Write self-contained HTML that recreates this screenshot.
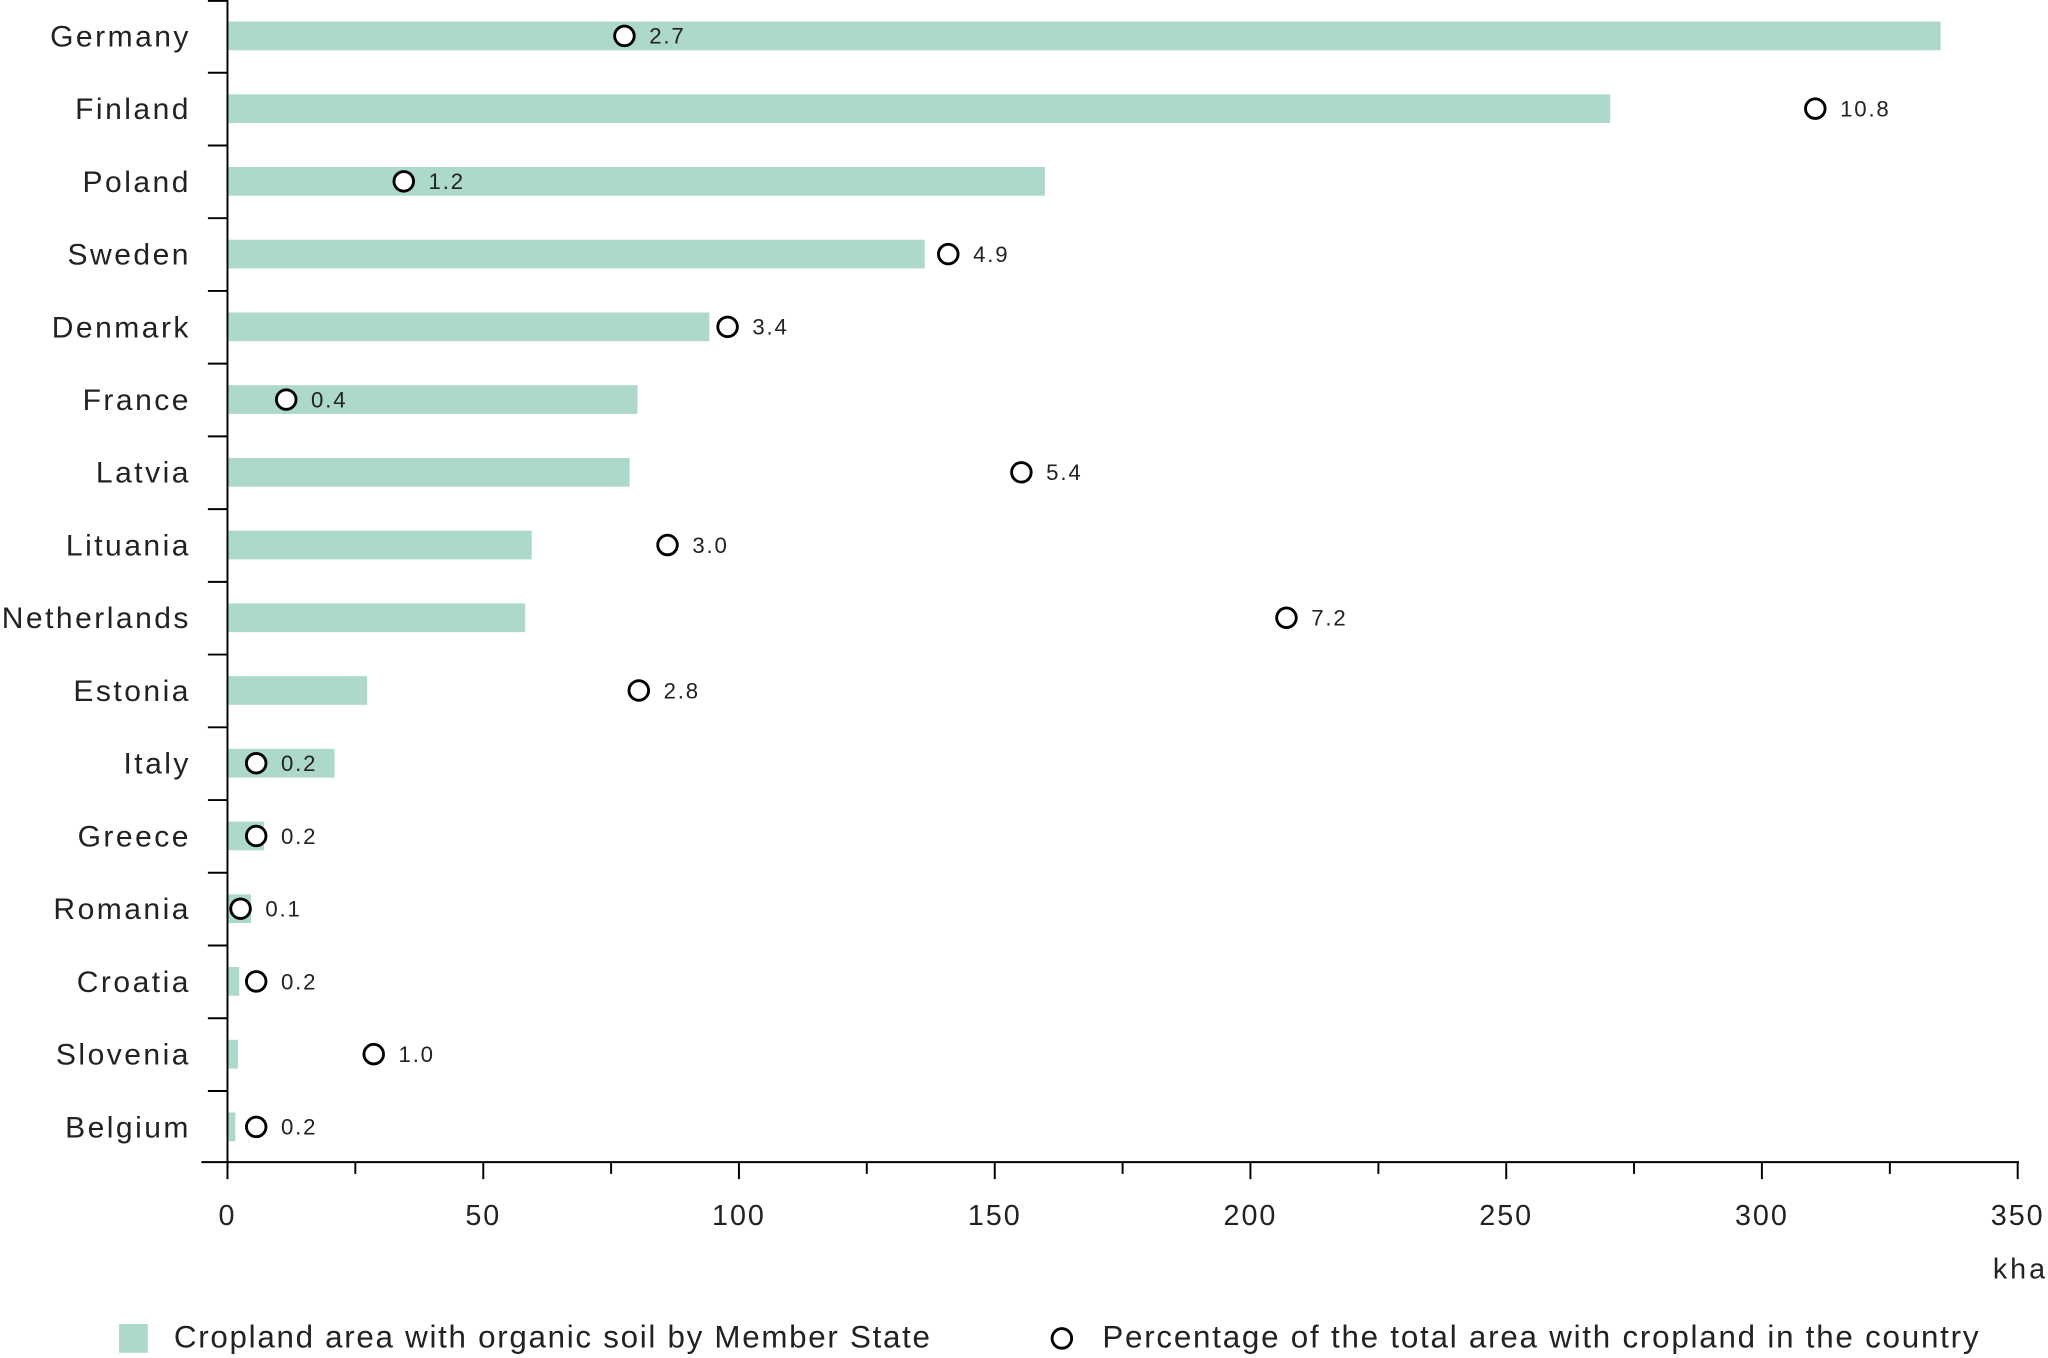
<!DOCTYPE html>
<html><head><meta charset="utf-8"><style>body{margin:0;background:#fff}svg{display:block}</style></head><body>
<svg width="2048" height="1358" viewBox="0 0 1568 1040" xmlns="http://www.w3.org/2000/svg" font-family="'Liberation Sans', sans-serif">
<g fill="#acd9c9">
<rect x="174" y="16.5" width="1312" height="22"/>
<rect x="174" y="72.2" width="1059" height="22"/>
<rect x="174" y="127.9" width="626" height="22"/>
<rect x="174" y="183.6" width="534" height="22"/>
<rect x="174" y="239.3" width="369" height="22"/>
<rect x="174" y="295" width="314" height="22"/>
<rect x="174" y="350.7" width="308" height="22"/>
<rect x="174" y="406.4" width="233" height="22"/>
<rect x="174" y="462.1" width="228" height="22"/>
<rect x="174" y="517.8" width="107" height="22"/>
<rect x="174" y="573.5" width="82" height="22"/>
<rect x="174" y="629.2" width="28" height="22"/>
<rect x="174" y="684.9" width="18" height="22"/>
<rect x="174" y="740.6" width="9" height="22"/>
<rect x="174" y="796.3" width="8" height="22"/>
<rect x="174" y="852" width="6" height="22"/>
</g>
<g font-size="23" fill="#222" text-anchor="end" letter-spacing="1.9">
<text x="146" y="35.5">Germany</text>
<text x="146" y="91.2">Finland</text>
<text x="146" y="146.9">Poland</text>
<text x="146" y="202.6">Sweden</text>
<text x="146" y="258.3">Denmark</text>
<text x="146" y="314">France</text>
<text x="146" y="369.7">Latvia</text>
<text x="146" y="425.4">Lituania</text>
<text x="146" y="481.1">Netherlands</text>
<text x="146" y="536.8">Estonia</text>
<text x="146" y="592.5">Italy</text>
<text x="146" y="648.2">Greece</text>
<text x="146" y="703.9">Romania</text>
<text x="146" y="759.6">Croatia</text>
<text x="146" y="815.3">Slovenia</text>
<text x="146" y="871">Belgium</text>
</g>
<g fill="#fff" stroke="#000" stroke-width="2.2">
<circle cx="478" cy="27.5" r="7.5"/>
<circle cx="1390" cy="83.2" r="7.5"/>
<circle cx="309" cy="138.9" r="7.5"/>
<circle cx="726" cy="194.6" r="7.5"/>
<circle cx="557" cy="250.3" r="7.5"/>
<circle cx="219" cy="306" r="7.5"/>
<circle cx="782" cy="361.7" r="7.5"/>
<circle cx="511" cy="417.4" r="7.5"/>
<circle cx="985" cy="473.1" r="7.5"/>
<circle cx="489" cy="528.8" r="7.5"/>
<circle cx="196" cy="584.5" r="7.5"/>
<circle cx="196" cy="640.2" r="7.5"/>
<circle cx="184" cy="695.9" r="7.5"/>
<circle cx="196" cy="751.6" r="7.5"/>
<circle cx="286" cy="807.3" r="7.5"/>
<circle cx="196" cy="863" r="7.5"/>
</g>
<g font-size="17" fill="#222" letter-spacing="1.4">
<text x="497" y="33.5">2.7</text>
<text x="1409" y="89.2">10.8</text>
<text x="328" y="144.9">1.2</text>
<text x="745" y="200.6">4.9</text>
<text x="576" y="256.3">3.4</text>
<text x="238" y="312">0.4</text>
<text x="801" y="367.7">5.4</text>
<text x="530" y="423.4">3.0</text>
<text x="1004" y="479.1">7.2</text>
<text x="508" y="534.8">2.8</text>
<text x="215" y="590.5">0.2</text>
<text x="215" y="646.2">0.2</text>
<text x="203" y="701.9">0.1</text>
<text x="215" y="757.6">0.2</text>
<text x="305" y="813.3">1.0</text>
<text x="215" y="869">0.2</text>
</g>
<g stroke="#000" stroke-width="1.5">
<line x1="174" x2="174" y1="0" y2="898"/>
<line x1="154" x2="1546" y1="890" y2="890"/>
<line x1="159" x2="174" y1="0.7" y2="0.7"/>
<line x1="159" x2="174" y1="55.7" y2="55.7"/>
<line x1="159" x2="174" y1="111.4" y2="111.4"/>
<line x1="159" x2="174" y1="167.1" y2="167.1"/>
<line x1="159" x2="174" y1="222.8" y2="222.8"/>
<line x1="159" x2="174" y1="278.5" y2="278.5"/>
<line x1="159" x2="174" y1="334.2" y2="334.2"/>
<line x1="159" x2="174" y1="389.9" y2="389.9"/>
<line x1="159" x2="174" y1="445.6" y2="445.6"/>
<line x1="159" x2="174" y1="501.3" y2="501.3"/>
<line x1="159" x2="174" y1="557" y2="557"/>
<line x1="159" x2="174" y1="612.7" y2="612.7"/>
<line x1="159" x2="174" y1="668.4" y2="668.4"/>
<line x1="159" x2="174" y1="724.1" y2="724.1"/>
<line x1="159" x2="174" y1="779.8" y2="779.8"/>
<line x1="159" x2="174" y1="835.5" y2="835.5"/>
<line x1="174" x2="174" y1="890" y2="903"/>
<line x1="271.9" x2="271.9" y1="890" y2="899"/>
<line x1="369.9" x2="369.9" y1="890" y2="903"/>
<line x1="467.8" x2="467.8" y1="890" y2="899"/>
<line x1="565.7" x2="565.7" y1="890" y2="903"/>
<line x1="663.6" x2="663.6" y1="890" y2="899"/>
<line x1="761.6" x2="761.6" y1="890" y2="903"/>
<line x1="859.5" x2="859.5" y1="890" y2="899"/>
<line x1="957.4" x2="957.4" y1="890" y2="903"/>
<line x1="1055.4" x2="1055.4" y1="890" y2="899"/>
<line x1="1153.3" x2="1153.3" y1="890" y2="903"/>
<line x1="1251.2" x2="1251.2" y1="890" y2="899"/>
<line x1="1349.1" x2="1349.1" y1="890" y2="903"/>
<line x1="1447.1" x2="1447.1" y1="890" y2="899"/>
<line x1="1545" x2="1545" y1="890" y2="903"/>
</g>
<g font-size="22" fill="#222" text-anchor="middle" letter-spacing="1.5">
<text x="174" y="938">0</text>
<text x="369.9" y="938">50</text>
<text x="565.7" y="938">100</text>
<text x="761.6" y="938">150</text>
<text x="957.4" y="938">200</text>
<text x="1153.3" y="938">250</text>
<text x="1349.1" y="938">300</text>
<text x="1545" y="938">350</text>
</g>
<text x="1526" y="979" font-size="22" fill="#222" textLength="40">kha</text>
<rect x="91" y="1014" width="22" height="22" fill="#acd9c9"/>
<text x="133" y="1032" font-size="24" fill="#222" textLength="579">Cropland area with organic soil by Member State</text>
<circle cx="813" cy="1025" r="7.5" fill="#fff" stroke="#000" stroke-width="2.2"/>
<text x="844" y="1032" font-size="24" fill="#222" textLength="671">Percentage of the total area with cropland in the country</text>
</svg>
</body></html>
